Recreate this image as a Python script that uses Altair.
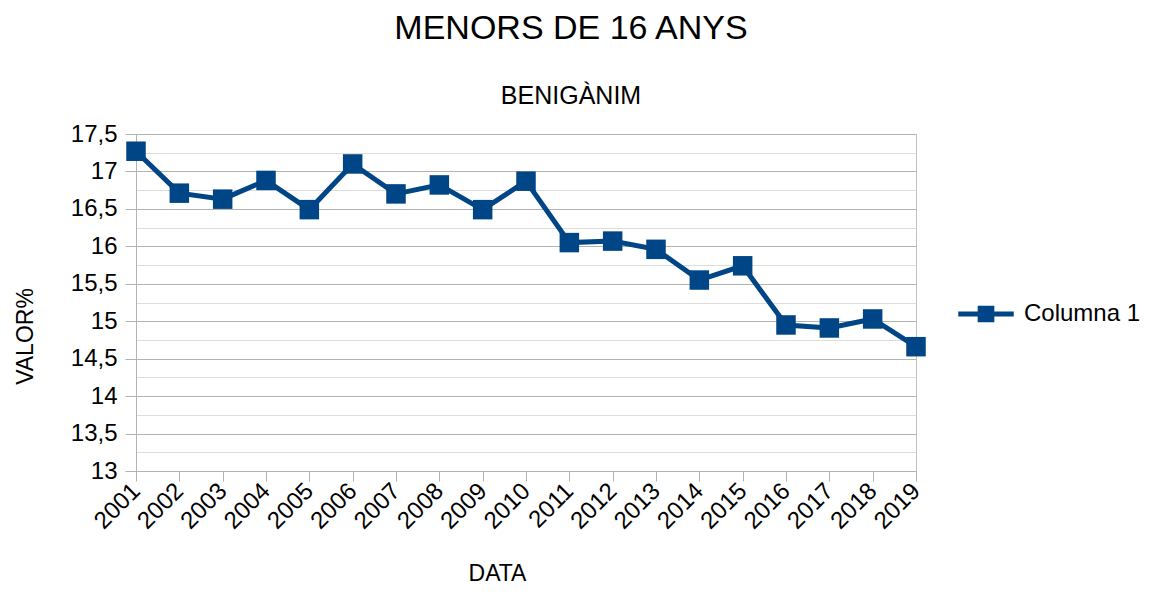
import altair as alt
import pandas as pd

years = [str(y) for y in range(2001, 2020)]
values = [17.27, 16.71, 16.63, 16.88, 16.49, 17.10, 16.70, 16.82, 16.49, 16.87,
          16.05, 16.07, 15.96, 15.55, 15.74, 14.95, 14.91, 15.03, 14.66]
series = ["Columna 1"] * len(years)
y_ticks = [13 + 0.25 * i for i in range(19)]

df = pd.DataFrame({"DATA": years, "VALOR": values, "serie": series})

FONT = "Liberation Sans"
BLUE = "#004586"

x_enc = alt.X("DATA:O", scale=alt.Scale(type="point", padding=0),
              axis=alt.Axis(title="DATA", labelAngle=-45, labelAlign="right",
                            labelBaseline="middle", labelPadding=6,
                            labelFontSize=24, titleFontSize=23,
                            tickSize=10, tickColor="#b3b3b3", domainColor="#b3b3b3",
                            grid=False, titleX=361, titleY=102,
                            titleBaseline="middle", titleFontWeight="normal"))
y_enc = alt.Y("VALOR:Q", scale=alt.Scale(domain=[13, 17.5], nice=False, zero=False),
              axis=alt.Axis(title="VALOR%", values=y_ticks,
                            labelExpr="datum.value % 0.5 === 0 ? replace(format(datum.value, '.1~f'), '.', ',') : ''",
                            labelFontSize=24, titleFontSize=23, labelPadding=8,
                            tickSize=11,
                            tickOpacity={"condition": {"test": "datum.value % 0.5 === 0", "value": 1}, "value": 0},
                            tickColor="#b3b3b3", domainColor="#b3b3b3",
                            gridColor={"condition": {"test": "datum.value % 0.5 === 0", "value": "#b3b3b3"}, "value": "#dddddd"},
                            titleX=-111, titleY=202, titleBaseline="middle",
                            titleFontWeight="normal"))

legend = alt.Legend(title=None, orient="none", legendX=822, legendY=152,
                    symbolType="M-1,-0.09L1,-0.09L1,0.09L-1,0.09Z M-0.3,-0.3L0.3,-0.3L0.3,0.3L-0.3,0.3Z",
                    symbolSize=3080, symbolStrokeWidth=0, symbolFillColor=BLUE,
                    labelFontSize=24, labelOffset=10, padding=0, labelColor="black",
                    labelFont=FONT)
color_enc = alt.Color("serie:N", scale=alt.Scale(range=[BLUE]), legend=legend)

line = alt.Chart(df).mark_line(strokeWidth=5, color=BLUE).encode(
    x=x_enc, y=y_enc, color=color_enc)
points = alt.Chart(df).mark_point(shape="square", filled=True, size=380, opacity=1).encode(
    x=x_enc, y=y_enc, color=color_enc)

chart = alt.layer(line, points).properties(
    width=780, height=337,
    autosize=alt.AutoSizeParams(type="none"),
    padding={"left": 128, "top": 126, "right": 228, "bottom": 116},
    title=alt.TitleParams(text="MENORS DE 16 ANYS", subtitle="BENIGÀNIM",
                          fontSize=34, subtitleFontSize=25, font=FONT, subtitleFont=FONT,
                          fontWeight="normal", color="black", subtitleColor="black",
                          anchor="middle", frame="group", dx=45, offset=13,
                          subtitlePadding=38),
).configure(font=FONT).configure_axis(
    labelColor="black", titleColor="black", labelFont=FONT, titleFont=FONT
).configure_view(stroke="#c0c0c0")

chart.save("out.html", embed_options={"renderer": "svg", "actions": False})
